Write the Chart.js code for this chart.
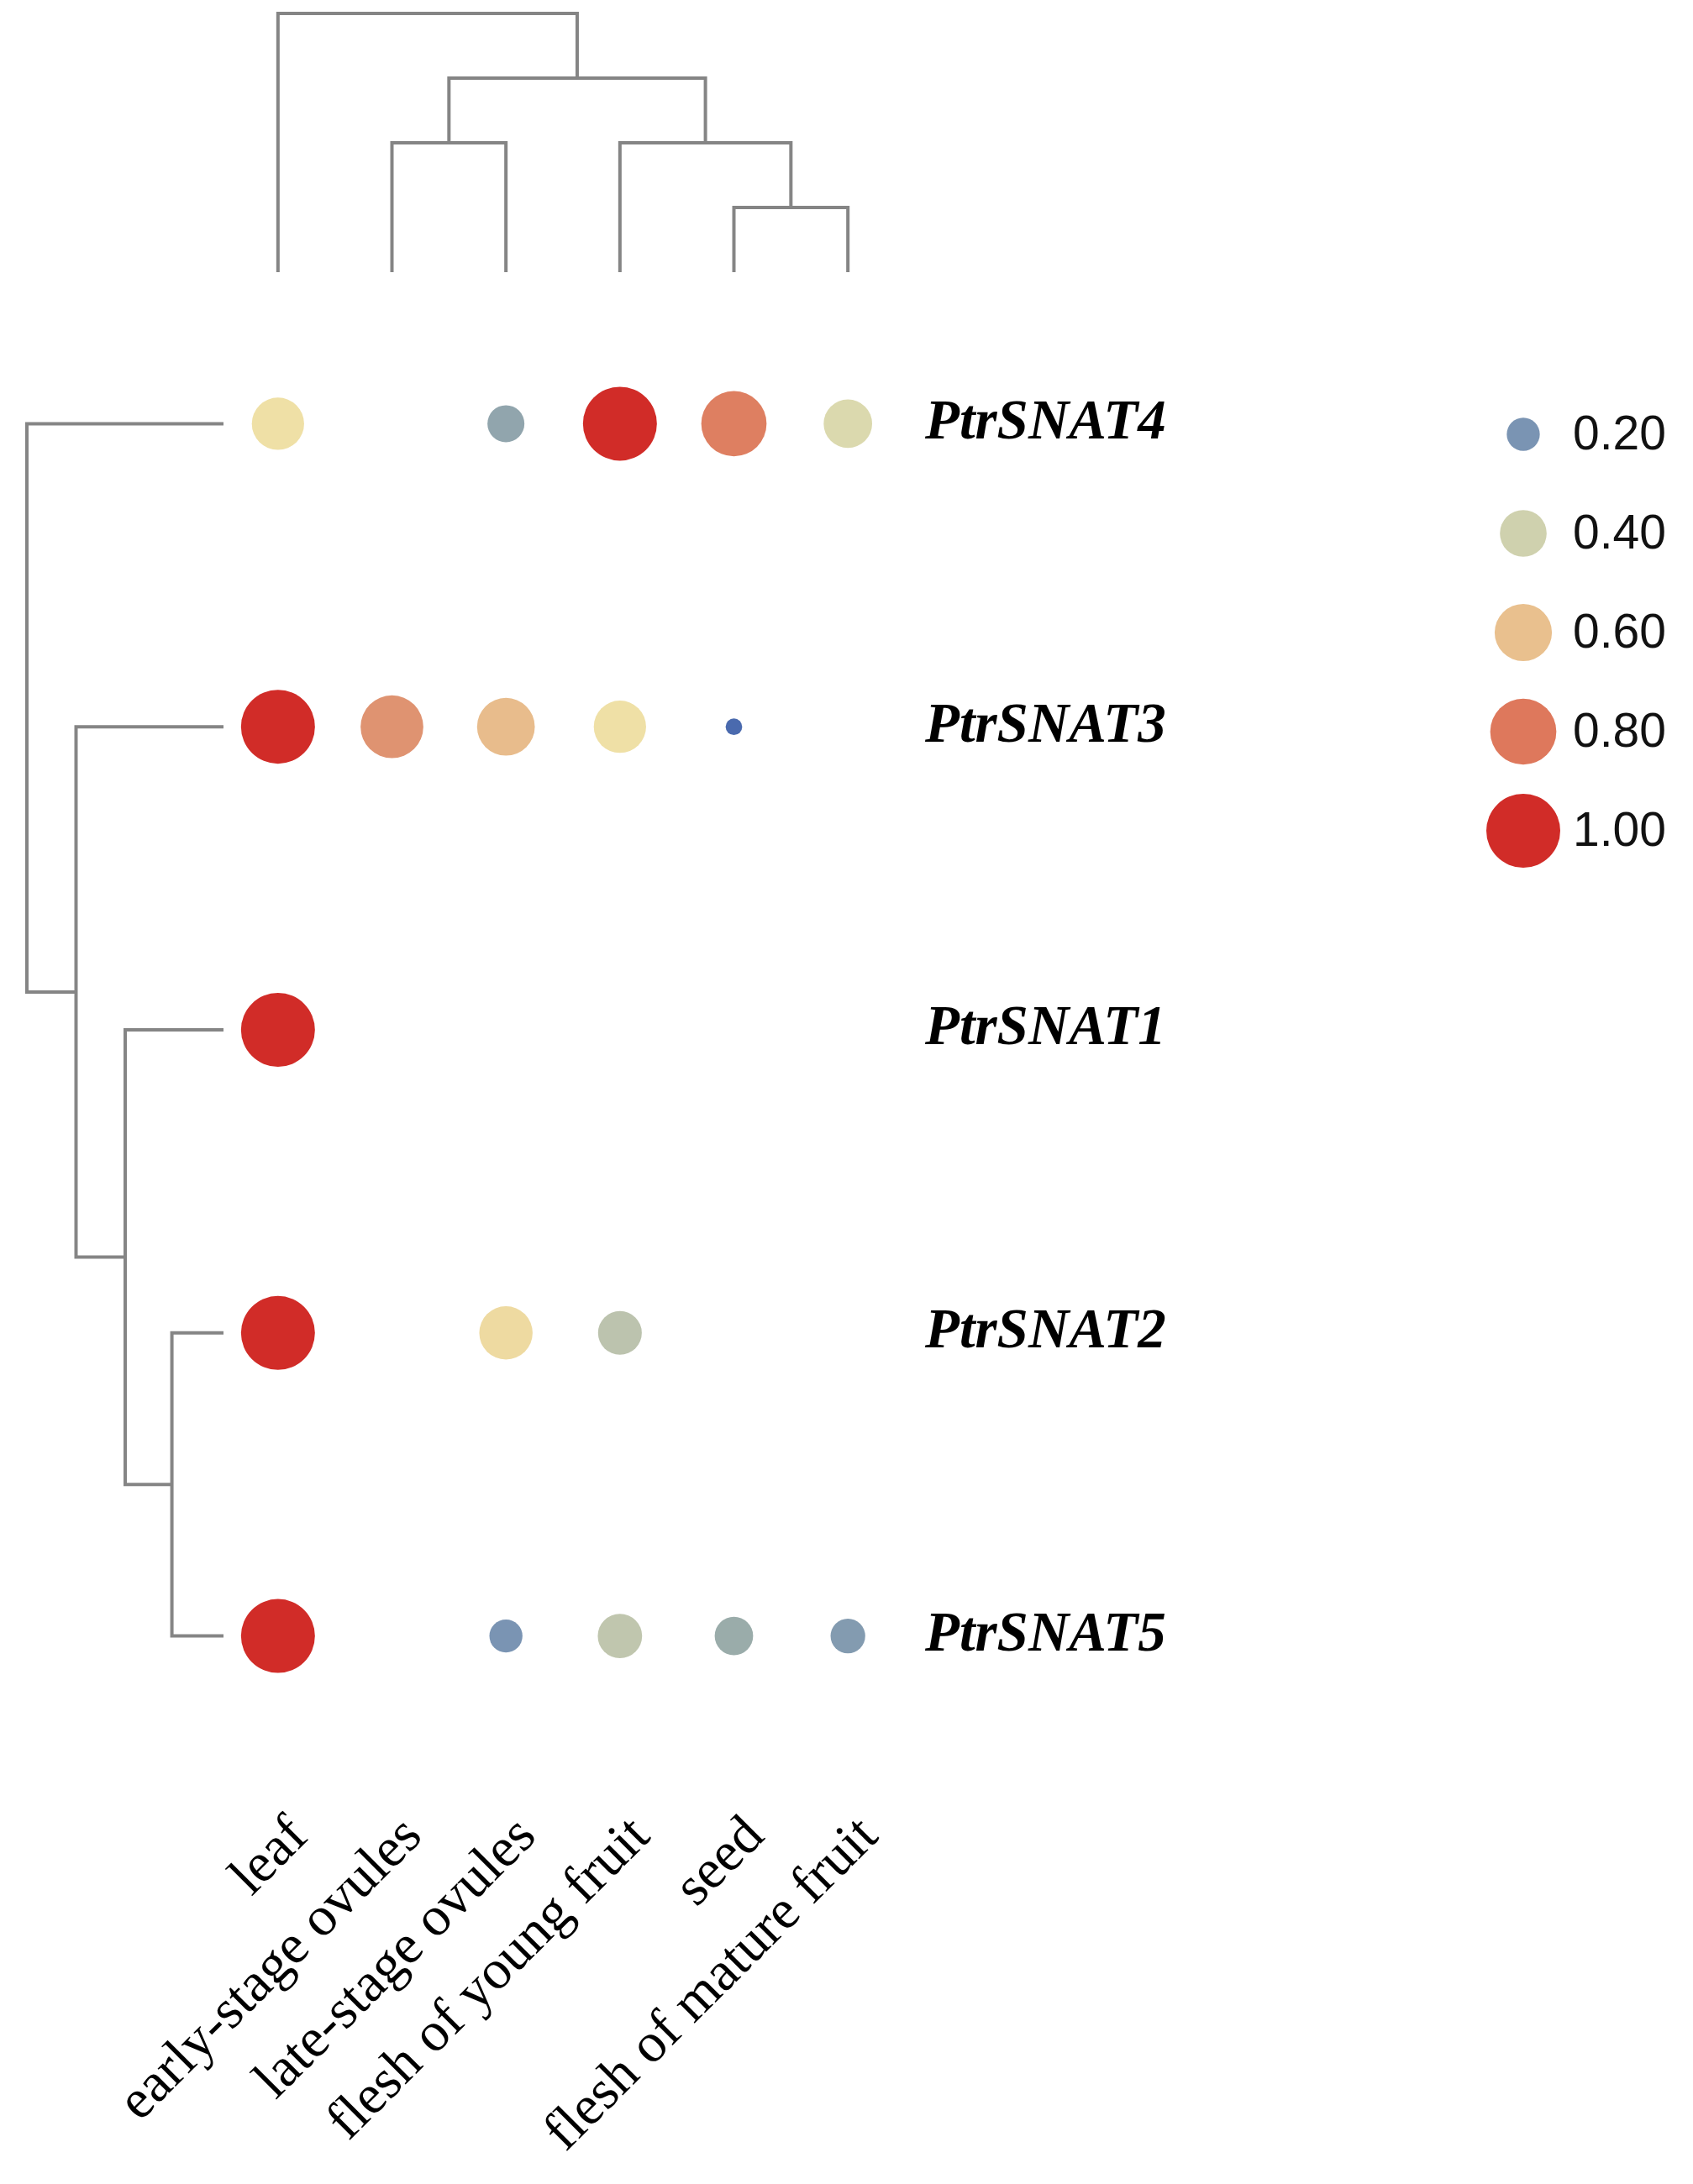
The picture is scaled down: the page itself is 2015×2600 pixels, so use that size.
<!DOCTYPE html>
<html>
<head>
<meta charset="utf-8">
<title>PtrSNAT expression</title>
<script src="https://cdn.jsdelivr.net/npm/chart.js@4.4.1/dist/chart.umd.min.js"></script>
<style>
  html, body { margin: 0; padding: 0; background: #ffffff; }
  #wrap { width: 2015px; height: 2600px; position: relative; }
</style>
</head>
<body>
<div id="wrap"><canvas id="dotChart"></canvas></div>
<script>
// tissues (columns) and genes (rows, top to bottom)
const tissues = ["leaf", "early-stage ovules", "late-stage ovules", "flesh of young fruit", "seed", "flesh of mature fruit"];
const genes = ["PtrSNAT4", "PtrSNAT3", "PtrSNAT1", "PtrSNAT2", "PtrSNAT5"];

// relative expression per gene, one value per tissue (0 = no dot)
const snat4 = [0.50, 0, 0.25, 1.00, 0.78, 0.43];
const snat3 = [1.00, 0.72, 0.61, 0.50, 0.05, 0];
const snat1 = [1.00, 0, 0, 0, 0, 0];
const snat2 = [1.00, 0, 0.52, 0.35, 0, 0];
const snat5 = [1.00, 0, 0.20, 0.36, 0.27, 0.22];
const rows = [snat4, snat3, snat1, snat2, snat5];

// legend steps
const legendValues = [0.20, 0.40, 0.60, 0.80, 1.00];

// dendrograms as [height, left, right], numbers are leaf indices
const colTree = [4, 0, [3, [2, 1, 2], [2, 3, [1, 4, 5]]]];
const rowTree = [4, 0, [3, 1, [2, 2, [1.05, 3, 4]]]];

// colour ramp (blue -> beige -> red)
const RAMP = [
  [0.00, "#3f62ad"], [0.05, "#4a6aae"], [0.20, "#7a94b3"], [0.27, "#9aacaa"],
  [0.36, "#c0c6ae"], [0.43, "#dbd9ae"], [0.50, "#efe0a6"], [0.60, "#e9c08e"],
  [0.72, "#df9371"], [0.80, "#de785c"], [1.00, "#d12c28"],
];
const MAX_R = 44;
const LINE = "#858585";

function hexRgb(h) {
  return [1, 3, 5].map((i) => parseInt(h.slice(i, i + 2), 16));
}
function rampColor(v) {
  for (let i = 1; i < RAMP.length; i++) {
    if (v <= RAMP[i][0]) {
      const [v0, c0] = RAMP[i - 1], [v1, c1] = RAMP[i];
      const t = (v - v0) / (v1 - v0);
      const a = hexRgb(c0), b = hexRgb(c1);
      return `rgb(${a.map((x, k) => Math.round(x + (b[k] - x) * t)).join(",")})`;
    }
  }
  return RAMP[RAMP.length - 1][1];
}
function dotRadius(v) { return MAX_R * Math.sqrt(v); }

const points = [];
rows.forEach((vals, gi) => vals.forEach((v, ti) => {
  if (v > 0) points.push({ x: tissues[ti], y: genes[gi], v });
}));

// draws a dendrogram; pos(i) gives the leaf pixel, level(h) the pixel of a height
function drawTree(ctx, node, pos, level, vertical) {
  if (typeof node === "number") return { c: pos(node), h: 0 };
  const [h, l, r] = node;
  const a = drawTree(ctx, l, pos, level, vertical);
  const b = drawTree(ctx, r, pos, level, vertical);
  const p = level(h);
  ctx.beginPath();
  if (vertical) {
    ctx.moveTo(a.c, level(a.h)); ctx.lineTo(a.c, p); ctx.lineTo(b.c, p); ctx.lineTo(b.c, level(b.h));
  } else {
    ctx.moveTo(level(a.h), a.c); ctx.lineTo(p, a.c); ctx.lineTo(p, b.c); ctx.lineTo(level(b.h), b.c);
  }
  ctx.stroke();
  return { c: (a.c + b.c) / 2, h };
}

const dendroPlugin = {
  id: "dendro",
  afterDraw(chart) {
    const { ctx, chartArea, scales } = chart;
    ctx.save();
    ctx.strokeStyle = LINE;
    ctx.lineWidth = 4;
    ctx.lineJoin = "miter";
    ctx.lineCap = "butt";
    const topBase = chartArea.top;
    drawTree(ctx, colTree, (i) => scales.x.getPixelForValue(i), (h) => topBase - h * 77, true);
    const leftBase = chartArea.left + 3;
    drawTree(ctx, rowTree, (i) => scales.y.getPixelForValue(i), (h) => leftBase - h * 58.5, false);
    ctx.restore();
  },
};

const sizeLegendPlugin = {
  id: "sizeLegend",
  afterDraw(chart) {
    const { ctx } = chart;
    ctx.save();
    ctx.font = "57px 'Liberation Sans', Arial, sans-serif";
    ctx.textBaseline = "middle";
    ctx.textAlign = "left";
    legendValues.forEach((v, i) => {
      const y = 517 + i * 118;
      ctx.beginPath();
      ctx.fillStyle = rampColor(v);
      ctx.arc(1813, y, dotRadius(v), 0, Math.PI * 2);
      ctx.fill();
      ctx.fillStyle = "#111111";
      ctx.fillText(v.toFixed(2), 1872, y + 2);
    });
    ctx.restore();
  },
};

new Chart(document.getElementById("dotChart"), {
  type: "bubble",
  data: {
    datasets: [{
      data: points,
      backgroundColor: (c) => (c.raw ? rampColor(c.raw.v) : "#000"),
      borderWidth: 0,
      radius: (c) => (c.raw ? dotRadius(c.raw.v) : 0),
      hoverRadius: 0,
    }],
  },
  options: {
    responsive: true,
    maintainAspectRatio: false,
    animation: false,
    events: [],
    layout: { padding: { left: 263, top: 324, right: 538, bottom: 0 } },
    plugins: { legend: { display: false }, tooltip: { enabled: false } },
    scales: {
      x: {
        type: "category",
        labels: tissues,
        offset: true,
        grid: { display: false, drawTicks: false },
        border: { display: false },
        ticks: {
          autoSkip: false, minRotation: 45, maxRotation: 45, padding: 20, labelOffset: 26,
          color: "#000000", font: { family: "'Liberation Serif', 'Times New Roman', serif", size: 66 },
        },
        afterFit: (s) => { s.height = 472; },
      },
      y: {
        type: "category",
        labels: genes,
        position: "right",
        offset: true,
        grid: { display: false, drawTicks: false },
        border: { display: false },
        ticks: {
          padding: 24, color: "#000000",
          font: { family: "'Liberation Serif', 'Times New Roman', serif", size: 67, style: "italic", weight: "bold" },
        },
        afterFit: (s) => { s.width = 400; },
      },
    },
  },
  plugins: [dendroPlugin, sizeLegendPlugin],
});
</script>
</body>
</html>
